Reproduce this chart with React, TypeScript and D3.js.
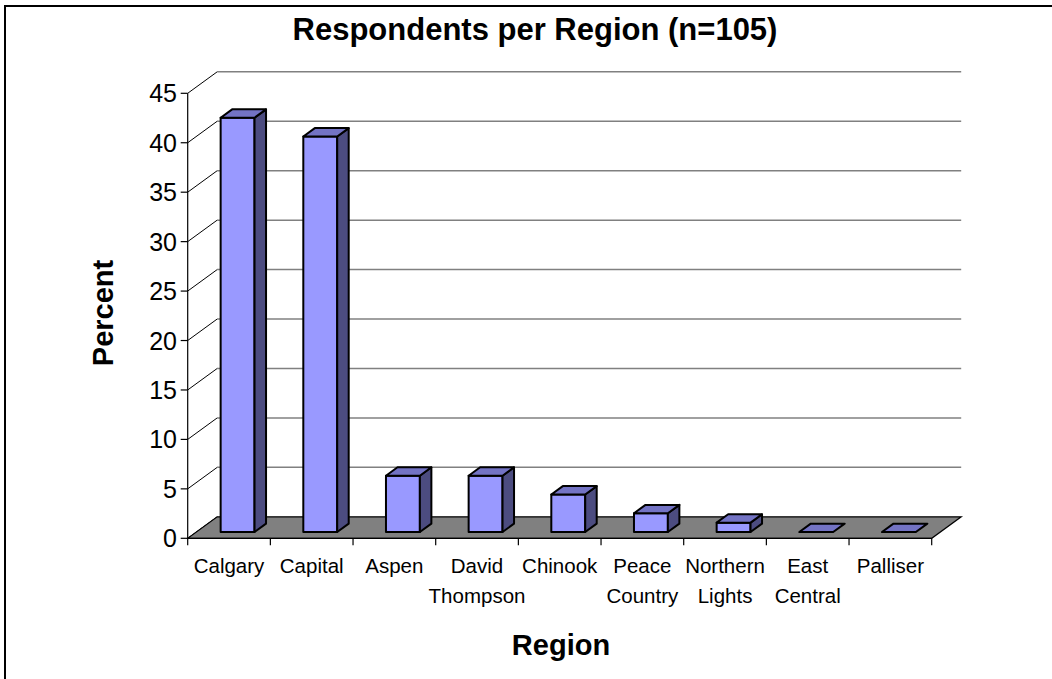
import React from "react";
import * as d3 from "d3";

const categories = [
  ["Calgary"],
  ["Capital"],
  ["Aspen"],
  ["David", "Thompson"],
  ["Chinook"],
  ["Peace", "Country"],
  ["Northern", "Lights"],
  ["East", "Central"],
  ["Palliser"],
];
const values = [41.9, 40.0, 5.7, 5.7, 3.8, 1.9, 0.95, 0, 0];
const yTicks = [0, 5, 10, 15, 20, 25, 30, 35, 40, 45];
const title = "Respondents per Region (n=105)";
const yTitle = "Percent";
const xTitle = "Region";

export default function App() {
  const W = 1052, H = 679;
  const x0 = 187.7, x1 = 931.7;
  const y = d3.scaleLinear().domain([0, 45]).range([538.3, 93.3]);
  const xb = d3.scaleBand<number>().domain(values.map((_, i) => i)).range([x0, x1]).padding(0);
  const dx = 29.5, dy = -21.5; // full depth vector
  const f0 = 0.29, f1 = 0.68; // bar depth placement
  const bw = xb.bandwidth() * 0.41;
  const font = "Liberation Sans, Arial, sans-serif";

  const pts = (a: [number, number][]) => a.map((p) => p.join(",")).join(" ");

  return (
    <svg width={W} height={H} style={{ position: "absolute", left: 0, top: 0, background: "#fff" }} fontFamily={font}>
      <rect x={5} y={6} width={1100} height={720} fill="none" stroke="#000" strokeWidth={2} />
      <text x={535} y={40} textAnchor="middle" fontSize={31} fontWeight="bold">{title}</text>

      {/* back wall gridlines */}
      {yTicks.filter((v) => v > 0).map((v) => (
        <line key={"g" + v} x1={x0 + dx} x2={x1 + dx} y1={y(v) + dy} y2={y(v) + dy} stroke="#808080" strokeWidth={1.5} />
      ))}
      {/* side wall diagonals */}
      {yTicks.map((v) => (
        <line key={"d" + v} x1={x0} y1={y(v)} x2={x0 + dx} y2={y(v) + dy} stroke="#000" strokeWidth={1} />
      ))}
      {/* floor */}
      <polygon
        points={pts([[x0, y(0)], [x1, y(0)], [x1 + dx, y(0) + dy], [x0 + dx, y(0) + dy]])}
        fill="#808080" stroke="#000" strokeWidth={1.2}
      />

      {/* bars */}
      {values.map((v, i) => {
        const cx = (xb(i) as number) + xb.bandwidth() / 2;
        const ox = dx * f0, oy = dy * f0;
        const ddx = dx * (f1 - f0), ddy = dy * (f1 - f0);
        const l = cx - bw / 2 + ox, r = cx + bw / 2 + ox;
        const b = y(0) + oy, t = y(v) + oy;
        return (
          <g key={"b" + i} stroke="#000" strokeWidth={2} strokeLinejoin="round">
            {v > 0 && <rect x={l} y={t} width={r - l} height={b - t} fill="#9999FF" />}
            {v > 0 && (
              <polygon points={pts([[r, t], [r + ddx, t + ddy], [r + ddx, b + ddy], [r, b]])} fill="#4C4C80" />
            )}
            <polygon points={pts([[l, t], [r, t], [r + ddx, t + ddy], [l + ddx, t + ddy]])} fill="#7373C4" />
          </g>
        );
      })}

      {/* y axis */}
      <line x1={x0} x2={x0} y1={y(0)} y2={y(45)} stroke="#000" strokeWidth={1.2} />
      {yTicks.map((v) => (
        <g key={"t" + v}>
          <line x1={x0 - 7} x2={x0} y1={y(v)} y2={y(v)} stroke="#000" strokeWidth={1.2} />
          <text x={177} y={y(v)} dy="0.36em" textAnchor="end" fontSize={25}>{v}</text>
        </g>
      ))}
      {/* x axis */}
      <line x1={x0} x2={x1} y1={y(0)} y2={y(0)} stroke="#000" strokeWidth={1.2} />
      {d3.range(values.length + 1).map((i) => {
        const xx = x0 + i * xb.step();
        return <line key={"xt" + i} x1={xx} x2={xx} y1={y(0)} y2={y(0) + 7} stroke="#000" strokeWidth={1.2} />;
      })}
      {categories.map((lines, i) => (
        <text key={"c" + i} x={(xb(i) as number) + xb.bandwidth() / 2} y={573} textAnchor="middle" fontSize={20.5}>
          {lines.map((s, j) => (
            <tspan key={j} x={(xb(i) as number) + xb.bandwidth() / 2} dy={j === 0 ? 0 : 29.5}>{s}</tspan>
          ))}
        </text>
      ))}

      <text transform="translate(113,313) rotate(-90)" textAnchor="middle" fontSize={29} fontWeight="bold">{yTitle}</text>
      <text x={561} y={655} textAnchor="middle" fontSize={29} fontWeight="bold">{xTitle}</text>
    </svg>
  );
}
